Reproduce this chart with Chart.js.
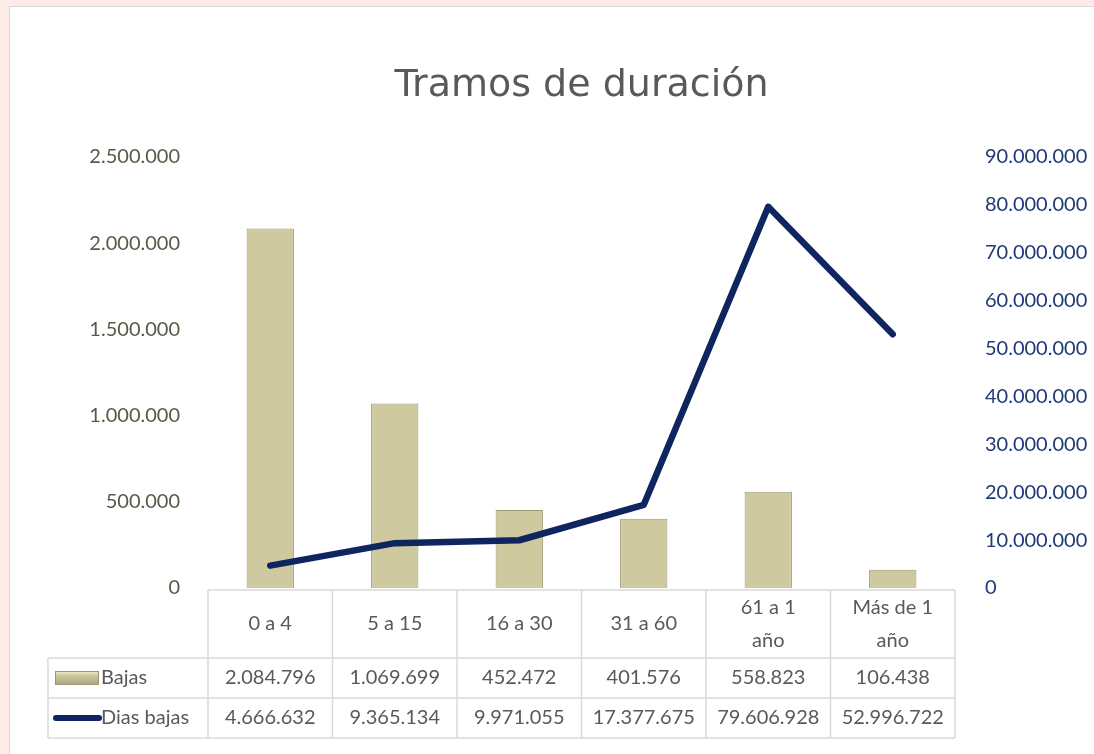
<!DOCTYPE html>
<html>
<head>
<meta charset="utf-8">
<script src="https://cdn.jsdelivr.net/npm/chart.js@4"></script>
<style>
  html, body { margin: 0; padding: 0; background: #fdebe5; }
  #wrap { position: absolute; left: 0; top: 0; width: 1094px; height: 754px; }
</style>
</head>
<body>
<div id="wrap"><canvas id="chart" width="1094" height="754"></canvas></div>
<script>
  const chartTitle = 'Tramos de duración';
  const categories = [['0 a 4'], ['5 a 15'], ['16 a 30'], ['31 a 60'], ['61 a 1', 'año'], ['Más de 1', 'año']];
  const bajas = [2084796, 1069699, 452472, 401576, 558823, 106438];
  const diasBajas = [4666632, 9365134, 9971055, 17377675, 79606928, 52996722];
  const seriesNames = ['Bajas', 'Dias bajas'];

  const BAR = '#cfc9a0';
  const BAR_EDGE = '#9c9672';
  const LINE = '#0e2560';
  const FONT = 'Lato, "Open Sans", sans-serif';

  const fmt = (n) => String(Math.round(n)).replace(/\B(?=(\d{3})+(?!\d))/g, '.');

  // white panel on pink page
  const panelBg = {
    id: 'panelBg',
    beforeDraw(chart) {
      const c = chart.ctx;
      c.save();
      c.fillStyle = '#fdebe5';
      c.fillRect(0, 0, chart.width, chart.height);
      c.fillStyle = '#ffffff';
      c.fillRect(9, 6, chart.width - 9, chart.height - 6);
      c.strokeStyle = '#d9d9d9';
      c.lineWidth = 1;
      c.strokeRect(9.5, 6.5, chart.width, chart.height);
      c.restore();
    }
  };

  // title centred over the plot area (Excel style)
  const plotTitle = {
    id: 'plotTitle',
    afterDraw(chart) {
      const c = chart.ctx;
      const a = chart.chartArea;
      c.save();
      c.fillStyle = '#595959';
      c.font = '38px "DejaVu Sans", sans-serif';
      c.textAlign = 'center';
      c.textBaseline = 'middle';
      c.fillText(chartTitle, (a.left + a.right) / 2, 86);
      c.restore();
    }
  };

  // Excel-like data table under the plot
  const dataTable = {
    id: 'dataTable',
    afterDraw(chart) {
      const c = chart.ctx;
      const xs = chart.scales.x;
      const area = chart.chartArea;
      const n = categories.length;
      const colW = (area.right - area.left) / n;
      const top = area.bottom + 2;
      const headH = 68, rowH = 40;
      const legendLeft = 48;
      const bottom = top + headH + rowH * 2;
      c.save();
      c.strokeStyle = '#d9d9d9';
      c.lineWidth = 1.5;
      c.beginPath();
      c.moveTo(area.left, top); c.lineTo(area.right, top);
      for (let r = 0; r < 3; r++) {
        const y = top + headH + rowH * r;
        c.moveTo(legendLeft, y); c.lineTo(area.right, y);
      }
      for (let i = 0; i <= n; i++) {
        const x = area.left + colW * i;
        c.moveTo(x, top); c.lineTo(x, bottom);
      }
      c.moveTo(legendLeft, top + headH); c.lineTo(legendLeft, bottom);
      c.stroke();

      c.fillStyle = '#595959';
      c.font = '20px ' + FONT;
      c.textAlign = 'center';
      c.textBaseline = 'middle';
      categories.forEach((lab, i) => {
        const x = xs.getPixelForValue(i);
        const cy = top + headH / 2;
        const lh = 33;
        lab.forEach((t, k) => c.fillText(t, x, cy + (k - (lab.length - 1) / 2) * lh));
        c.fillText(fmt(bajas[i]), x, top + headH + rowH / 2);
        c.fillText(fmt(diasBajas[i]), x, top + headH + rowH * 1.5);
      });

      // legend keys
      const y1 = top + headH + rowH / 2;
      const y2 = top + headH + rowH * 1.5;
      const g = c.createLinearGradient(0, y1 - 7, 0, y1 + 7);
      g.addColorStop(0, '#f3efcf');
      g.addColorStop(0.3, BAR);
      g.addColorStop(1, '#aaa47e');
      c.fillStyle = g;
      c.fillRect(55, y1 - 7, 44, 14);
      c.strokeStyle = BAR_EDGE;
      c.lineWidth = 1;
      c.strokeRect(55.5, y1 - 6.5, 43, 13);
      c.strokeStyle = LINE;
      c.lineWidth = 6;
      c.lineCap = 'round';
      c.beginPath();
      c.moveTo(56, y2); c.lineTo(99, y2);
      c.stroke();

      c.fillStyle = '#595959';
      c.textAlign = 'left';
      c.fillText(seriesNames[0], 101, y1);
      c.fillText(seriesNames[1], 101, y2);
      c.restore();
    }
  };

  function barFill(ctx) {
    const el = ctx.element;
    const chart = ctx.chart;
    if (!el || el.width === undefined || !isFinite(el.x)) return BAR;
    const w = el.width;
    const g = chart.ctx.createLinearGradient(el.x - w / 2, 0, el.x + w / 2, 0);
    g.addColorStop(0, '#b7b18a');
    g.addColorStop(0.1, BAR);
    g.addColorStop(0.9, BAR);
    g.addColorStop(1, '#a9a37d');
    return g;
  }

  new Chart(document.getElementById('chart'), {
    data: {
      labels: categories,
      datasets: [
        {
          type: 'line',
          label: seriesNames[1],
          data: diasBajas,
          yAxisID: 'y1',
          borderColor: LINE,
          backgroundColor: LINE,
          borderWidth: 6.5,
          borderCapStyle: 'round',
          borderJoinStyle: 'round',
          pointRadius: 0,
          tension: 0,
          order: 0
        },
        {
          type: 'bar',
          label: seriesNames[0],
          data: bajas,
          yAxisID: 'y',
          backgroundColor: barFill,
          borderColor: BAR_EDGE,
          borderWidth: 1,
          barPercentage: 0.38,
          categoryPercentage: 1,
          order: 1
        }
      ]
    },
    options: {
      responsive: false,
      animation: false,
      layout: { padding: { top: 157, bottom: 166, left: 0, right: 0 } },
      plugins: {
        legend: { display: false },
        tooltip: { enabled: false },
        title: { display: false }
      },
      scales: {
        x: { display: false },
        y: {
          position: 'left',
          min: 0,
          max: 2500000,
          grid: { display: false },
          border: { display: false },
          ticks: {
            stepSize: 500000,
            padding: 20,
            color: '#5b5946',
            font: { family: FONT, size: 20 },
            callback: (v) => fmt(v)
          },
          afterFit(s) { s.width = 208; }
        },
        y1: {
          position: 'right',
          min: 0,
          max: 90000000,
          grid: { display: false },
          border: { display: false },
          ticks: {
            stepSize: 10000000,
            padding: 22,
            color: '#1f3a76',
            font: { family: FONT, size: 20 },
            callback: (v) => fmt(v)
          },
          afterFit(s) { s.width = 139; }
        }
      }
    },
    plugins: [panelBg, plotTitle, dataTable]
  });
</script>
</body>
</html>
